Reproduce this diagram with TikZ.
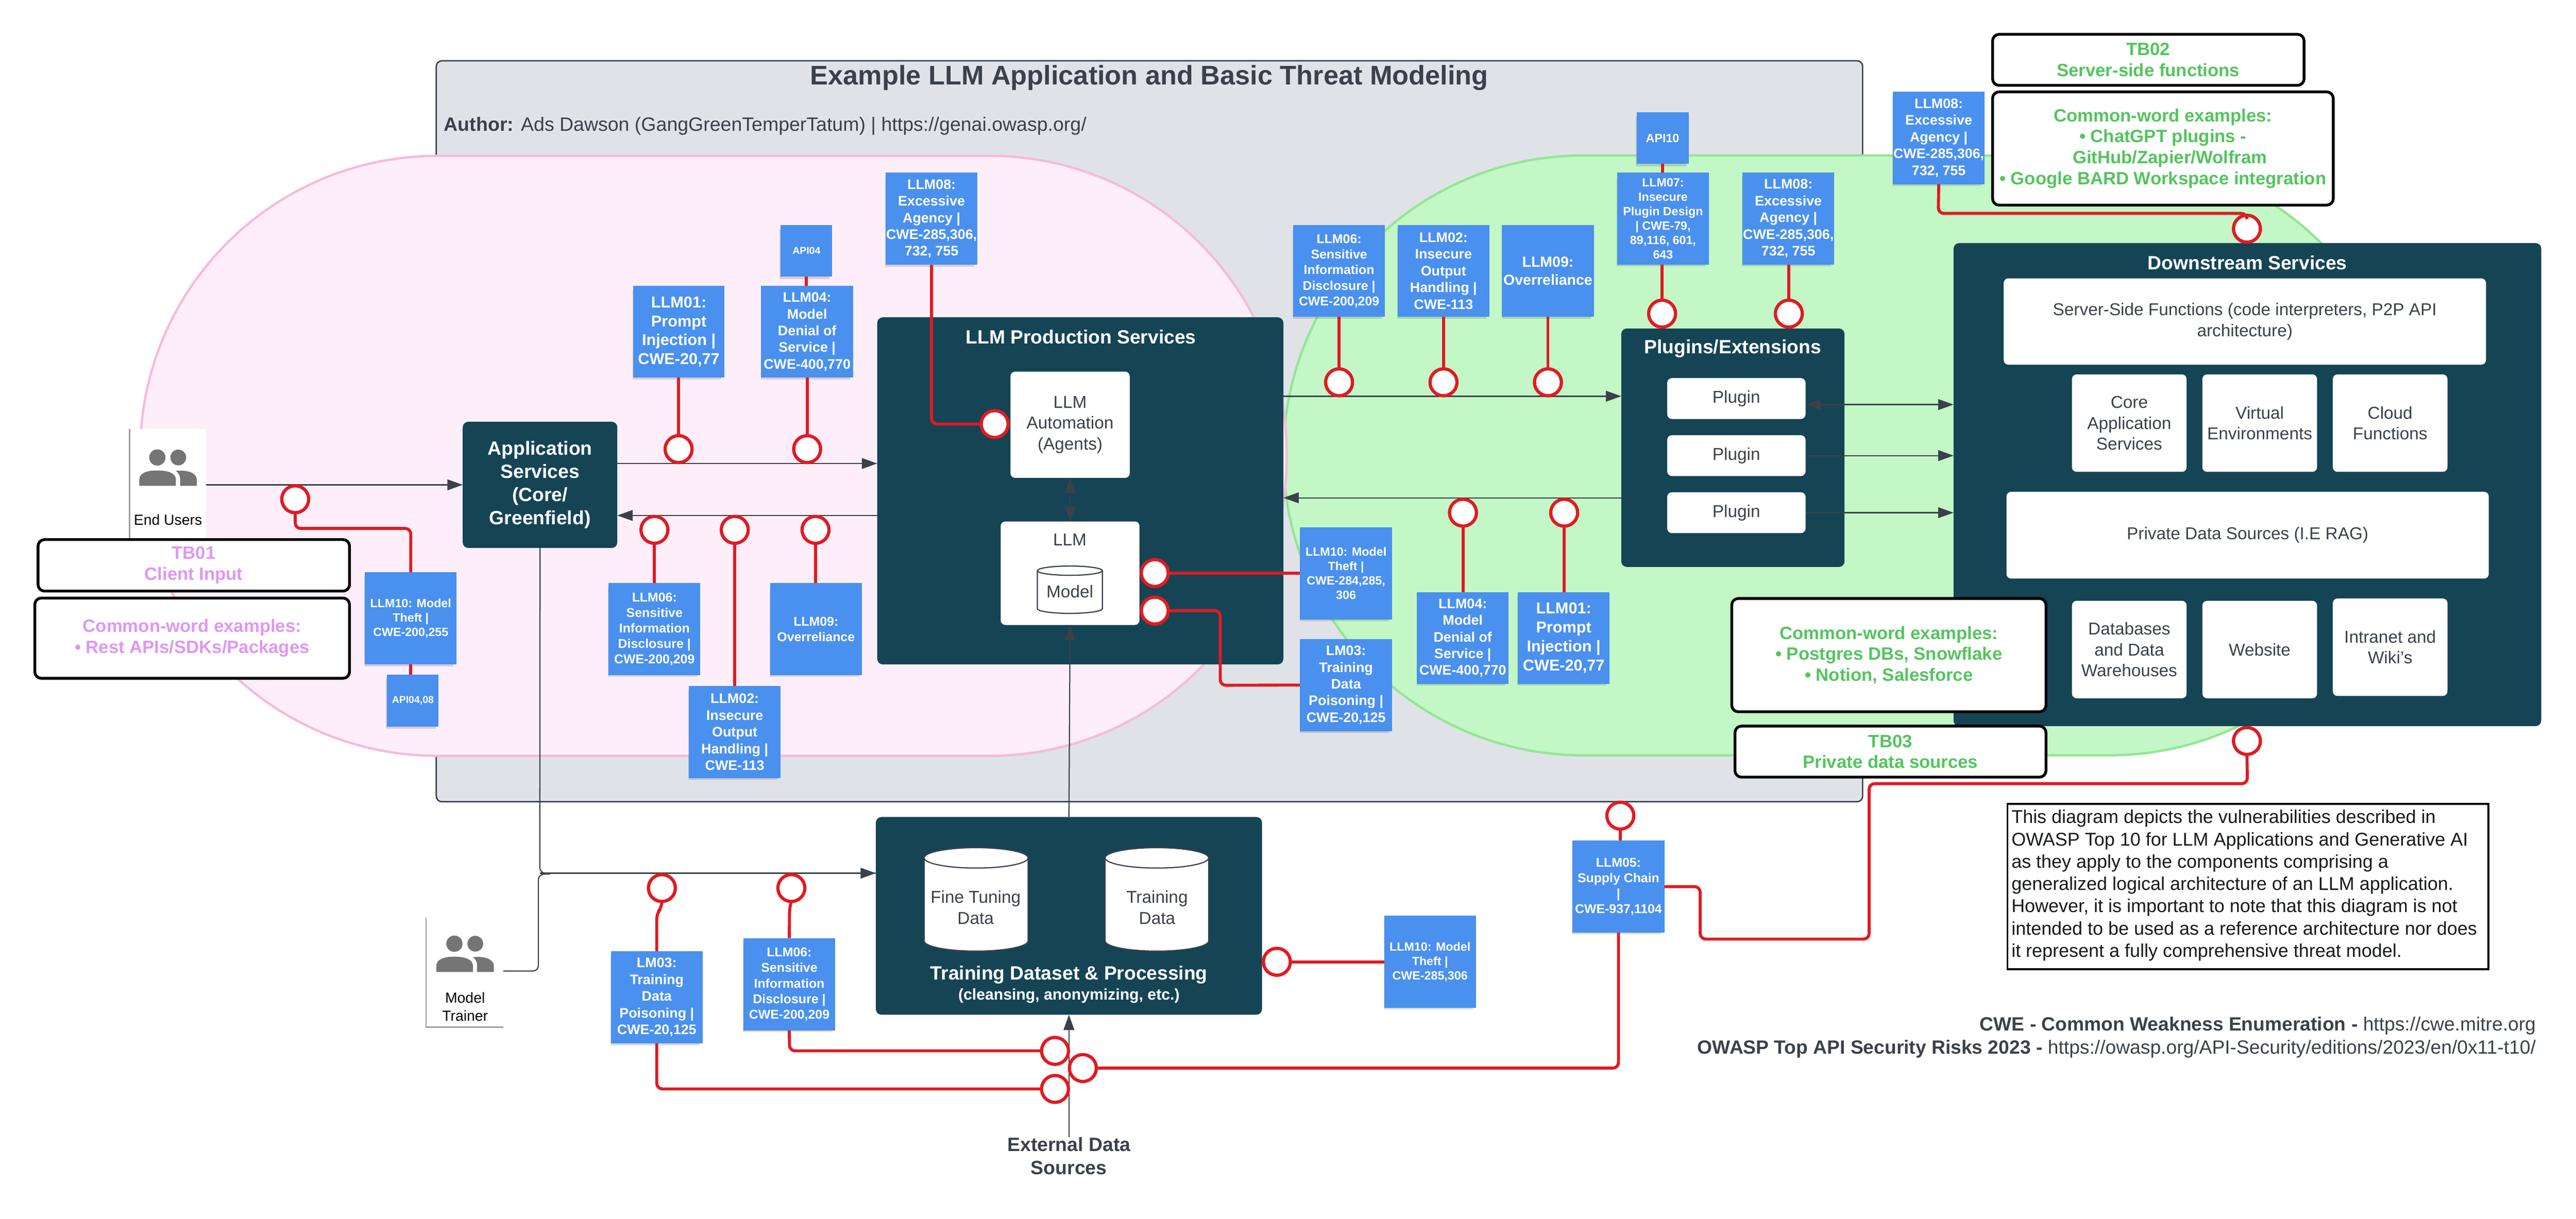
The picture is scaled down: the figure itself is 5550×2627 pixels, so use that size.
\documentclass[tikz,border=0pt]{standalone}
\usepackage{fontspec}
\setmainfont{Liberation Sans}
\usetikzlibrary{arrows.meta,shadows,calc}
\definecolor{teal}{HTML}{154455}
\definecolor{noteblue}{HTML}{4A90EE}
\definecolor{redl}{HTML}{E01B22}
\definecolor{ink}{HTML}{3A414A}
\definecolor{grayfill}{HTML}{DFE3E8}
\definecolor{pinkfill}{HTML}{FDEEFA}
\definecolor{pinkline}{HTML}{F6BBD9}
\definecolor{greenfill}{HTML}{C3F7C6}
\definecolor{greenline}{HTML}{95E595}
\definecolor{tbpink}{HTML}{DF97F2}
\definecolor{tbgreen}{HTML}{54C45E}
\definecolor{icon}{HTML}{757575}
\newcommand{\fs}[2]{\fontsize{\fpeval{#1*0.2845}pt}{\fpeval{#2*0.2845}pt}\selectfont}
\tikzset{
 note/.style={fill=noteblue,text=white,align=center,general shadow={fill=black,opacity=.14,shadow scale=.97,shadow xshift=-.04cm,shadow yshift=-.07cm}},
 nA/.style={font=\fs{21.6}{26}\bfseries},
 nB/.style={font=\fs{25.8}{31}\bfseries},
 nC/.style={font=\fs{27.6}{33.5}\bfseries},
 nD/.style={font=\fs{29.8}{36}\bfseries},
 nE/.style={font=\fs{34}{41}\bfseries},
 nF/.style={font=\fs{31.6}{38}\bfseries},
 darkbox/.style={fill=teal,rounded corners=.12cm,text=white,align=center},
 whitebox/.style={fill=white,rounded corners=.1cm,text=ink,align=center,font=\fs{37}{45}},
 tbbox/.style={draw=black,line width=.06cm,fill=white,rounded corners=.14cm,align=center,font=\fs{38.5}{45}\bfseries},
 threat/.style={circle,draw=redl,line width=.07cm,fill=white,minimum size=.58cm,inner sep=0pt,outer sep=0pt},
 redline/.style={draw=redl,line width=.065cm,rounded corners=.12cm},
 flow/.style={draw=ink,line width=.025cm,-{Triangle[length=.33cm,width=.23cm]}},
 flowboth/.style={draw=ink,line width=.025cm,{Triangle[length=.33cm,width=.23cm]}-{Triangle[length=.33cm,width=.23cm]}},
 plainline/.style={draw=ink,line width=.025cm,rounded corners=.12cm},
 cyl/.style={draw=ink,line width=.025cm,fill=white},
 txt/.style={text=ink,inner sep=0pt,align=center},
 titletext/.style={font=\fs{41.3}{50}\bfseries,text=white,inner sep=0pt,align=center},
 plain/.style={}
}
\newcommand{\Bx}[7]{%
 \pgfmathsetmacro\cx{(#3+#5)/2}\pgfmathsetmacro\cy{(#4+#6)/2}%
 \pgfmathsetmacro\ww{(#5-#3)*0.01}\pgfmathsetmacro\hh{(#6-#4)*0.01}%
 \node[#2,minimum width=\ww cm,minimum height=\hh cm,inner sep=0pt,outer sep=0pt] (#1) at (\cx,\cy) {#7};}
\newcommand{\Cyl}[5]{% x1 y1 x2 y2 ry
 \pgfmathsetmacro\rx{(#3-#1)/2}\pgfmathsetmacro\yt{#2+#5}\pgfmathsetmacro\yb{#4-#5}%
 \draw[cyl] (#1,\yt) -- (#1,\yb) arc[start angle=180,end angle=0,x radius=\rx,y radius=#5] -- (#3,\yt) arc[start angle=0,end angle=-180,x radius=\rx,y radius=#5] -- cycle;
 \draw[cyl,fill=none] (#1,\yt) arc[start angle=180,end angle=0,x radius=\rx,y radius=#5];}
\newcommand{\People}[2]{%
 \begin{scope}[shift={(#1,#2)}]
 \fill[icon] (339,986) circle[radius=17.5] (384,986) circle[radius=17];
 \fill[icon] (300,1047) -- (300,1034) .. controls (300,1018) and (320,1014) .. (339,1014) .. controls (358,1014) and (379,1018) .. (379,1034) -- (379,1047) -- cycle;
 \fill[icon] (388,1047) -- (388,1032) .. controls (388,1024) and (384,1019) .. (379,1015) .. controls (405,1012) and (424,1020) .. (424,1034) -- (424,1047) -- cycle;
 \end{scope}}
\begin{document}
\begin{tikzpicture}[x=0.01cm,y=-0.01cm]
\useasboundingbox (0,0) rectangle (5550,2627);
\fill[white] (0,0) rectangle (5550,2627);
% zones
\Bx{zone}{fill=grayfill,draw=ink,line width=.03cm,rounded corners=.12cm}{940}{131}{4013}{1728}{}
\Bx{greenzone}{fill=greenfill,draw=greenline,line width=.05cm,rounded corners=6.47cm}{2765}{335}{5191}{1628}{}
\Bx{pinkzone}{fill=pinkfill,draw=pinkline,line width=.05cm,rounded corners=6.4cm}{302}{336}{2772}{1629}{}
\node[txt,font=\fs{58}{60}\bfseries] (title) at (2476,168) {Example LLM Application and Basic Threat Modeling};
\node[txt,font=\fs{41.6}{50},anchor=west] (author) at (956,272) {\textbf{Author:} Ads Dawson (GangGreenTemperTatum) | https://genai.owasp.org/};
% users
\Bx{eu}{fill=white}{279}{925}{444}{1165}{}
\draw[draw=icon!70,line width=.03cm] (eu.north west) -- (eu.south west);
\People{0}{0}
\node[text=black,font=\fs{31.5}{38}] (eutext) at (362,1120) {End Users};
\Bx{mt}{fill=white}{918}{1978}{1084}{2214}{}
\draw[draw=icon!70,line width=.03cm] (mt.north west) -- (mt.south west) -- (mt.south east);
\People{640}{1048}
\node[text=black,font=\fs{31.5}{39},align=center] (mttext) at (1002,2170) {Model\\Trainer};
% dark boxes
\Bx{app}{darkbox,font=\fs{41.3}{50}\bfseries}{997}{909}{1330}{1181}{Application\\Services\\(Core/\\Greenfield)}
\Bx{prod}{darkbox}{1890}{684}{2765}{1432}{}
\node[titletext] (prodt) at (2329,726) {LLM Production Services};
\Bx{auto}{whitebox}{2177}{801}{2434}{1030}{LLM\\Automation\\(Agents)}
\Bx{llm}{whitebox}{2156}{1124}{2455}{1347}{}
\node[txt,font=\fs{37}{45}] (llmt) at (2305,1163) {LLM};
\Cyl{2235}{1220}{2375}{1322}{10}
\node[txt,font=\fs{37}{45}] (modelt) at (2305,1275) {Model};
\Bx{plug}{darkbox}{3493}{708}{3974}{1222}{}
\node[titletext] (plugt) at (3733,751) {Plugins/Extensions};
\Bx{p1}{whitebox}{3592}{815}{3890}{903}{Plugin}
\Bx{p2}{whitebox}{3592}{938}{3890}{1026}{Plugin}
\Bx{p3}{whitebox}{3592}{1061}{3890}{1149}{Plugin}
\Bx{down}{darkbox}{4209}{524}{5475}{1565}{}
\node[titletext] (downt) at (4842,566) {Downstream Services};
\Bx{srv}{whitebox}{4317}{600}{5356}{786}{Server-Side Functions (code interpreters, P2P API\\architecture)}
\Bx{core}{whitebox}{4464}{807}{4711}{1017}{Core\\Application\\Services}
\Bx{virt}{whitebox}{4745}{807}{4992}{1017}{Virtual\\Environments}
\Bx{cloud}{whitebox}{5026}{807}{5273}{1017}{Cloud\\Functions}
\Bx{priv}{whitebox}{4323}{1060}{5362}{1247}{Private Data Sources (I.E RAG)}
\Bx{db}{whitebox}{4464}{1295}{4711}{1505}{Databases\\and Data\\Warehouses}
\Bx{web}{whitebox}{4745}{1295}{4992}{1505}{Website}
\Bx{wiki}{whitebox}{5026}{1290}{5273}{1500}{Intranet and\\Wiki's}
\Bx{train}{darkbox}{1887}{1761}{2719}{2187}{}
\Cyl{1991}{1827}{2215}{2050}{22}
\Cyl{2381}{1827}{2604}{2050}{22}
\node[txt,font=\fs{37}{45}] (ft) at (2102,1956) {Fine Tuning\\Data};
\node[txt,font=\fs{37}{45}] (td) at (2493,1956) {Training\\Data};
\node[titletext] (traint) at (2303,2101) {Training Dataset \& Processing};
\node[text=white,inner sep=0pt,font=\fs{33.5}{40}\bfseries] (trains) at (2303,2147) {(cleansing, anonymizing, etc.)};
\node[txt,font=\fs{41.5}{50}\bfseries] (ext) at (2303,2492) {External Data\\Sources};
% flows
\draw[flow] (eu.east |- app) -- (app);
\draw[flow] (app.east |- 0,999) -- (prod.west |- 0,999);
\draw[flow] (prod.west |- 0,1111) -- (app.east |- 0,1111);
\draw[flow] (prod.east |- 0,854) -- (plug.west |- 0,854);
\draw[flow] (plug.west |- 0,1073) -- (prod.east |- 0,1073);
\draw[flowboth] (auto.south) -- (llm.north);
\draw[flow] (train.north) -- (llm.south);
\draw[flow] (ext.north) -- (train.south);
\draw[flowboth] (p1.east |- 0,872) -- (down.west |- 0,872);
\draw[flow] (p2.east |- 0,982) -- (down.west |- 0,982);
\draw[flow] (p3.east |- 0,1105) -- (down.west |- 0,1105);
\draw[plainline] (app.south) -- (1163,1882) -- (train.west |- 0,1882);
\draw[plainline] (mt.east |- 0,2093) -- (1160,2093) -- (1160,1884) -- (1185,1884);
\draw[flow] (1163,1882) -- (train.west |- 0,1882);
% notes
\Bx{l10a}{note,nB}{786}{1233}{984}{1432}{LLM10: Model\\Theft |\\CWE-200,255}
\Bx{api48}{note,nA}{834}{1454}{945}{1566}{API04,08}
\Bx{l01a}{note,nE}{1364}{616}{1561}{814}{LLM01:\\Prompt\\Injection |\\CWE-20,77}
\Bx{api4}{note,nA}{1682}{485}{1793}{596}{API04}
\Bx{l04a}{note,nD}{1640}{616}{1838}{814}{LLM04:\\Model\\Denial of\\Service |\\CWE-400,770}
\Bx{l08a}{note,nD}{1908}{372}{2106}{571}{LLM08:\\Excessive\\Agency |\\CWE-285,306,\\732, 755}
\Bx{l06a}{note,nC}{1311}{1257}{1509}{1455}{LLM06:\\Sensitive\\Information\\Disclosure |\\CWE-200,209}
\Bx{l09a}{note,nC}{1659}{1257}{1857}{1455}{LLM09:\\Overreliance}
\Bx{l02a}{note,nD}{1484}{1479}{1682}{1677}{LLM02:\\Insecure\\Output\\Handling |\\CWE-113}
\Bx{l06b}{note,nC}{2786}{485}{2984}{683}{LLM06:\\Sensitive\\Information\\Disclosure |\\CWE-200,209}
\Bx{l02b}{note,nD}{3011}{485}{3209}{683}{LLM02:\\Insecure\\Output\\Handling |\\CWE-113}
\Bx{l09b}{note,nF}{3236}{485}{3434}{683}{LLM09:\\Overreliance}
\Bx{api10}{note,font=\fs{25.8}{31}\bfseries}{3526}{242}{3638}{353}{API10}
\Bx{l07}{note,nB}{3484}{372}{3682}{570}{LLM07:\\Insecure\\Plugin Design\\| CWE-79,\\89,116, 601,\\643}
\Bx{l08b}{note,nD}{3754}{372}{3952}{570}{LLM08:\\Excessive\\Agency |\\CWE-285,306,\\732, 755}
\Bx{l08c}{note,nD}{4078}{198}{4276}{397}{LLM08:\\Excessive\\Agency |\\CWE-285,306,\\732, 755}
\Bx{l10b}{note,nB}{2801}{1137}{2999}{1335}{LLM10: Model\\Theft |\\CWE-284,285,\\306}
\Bx{l03b}{note,nD}{2801}{1377}{2999}{1576}{LM03:\\Training\\Data\\Poisoning |\\CWE-20,125}
\Bx{l04b}{note,nD}{3053}{1276}{3250}{1474}{LLM04:\\Model\\Denial of\\Service |\\CWE-400,770}
\Bx{l01b}{note,nE}{3270}{1276}{3468}{1474}{LLM01:\\Prompt\\Injection |\\CWE-20,77}
\Bx{l05}{note,nC}{3388}{1812}{3586}{2010}{LLM05:\\Supply Chain\\|\\CWE-937,1104}
\Bx{l03c}{note,nD}{1316}{2050}{1514}{2249}{LM03:\\Training\\Data\\Poisoning |\\CWE-20,125}
\Bx{l06c}{note,nC}{1602}{2022}{1799}{2221}{LLM06:\\Sensitive\\Information\\Disclosure |\\CWE-200,209}
\Bx{l10c}{note,nB}{2982}{1974}{3180}{2172}{LLM10: Model\\Theft |\\CWE-285,306}
% trust-boundary boxes
\Bx{tb1}{tbbox,text=tbpink}{82}{1163}{753}{1274}{TB01\\Client Input}
\Bx{tb1c}{tbbox,text=tbpink}{75}{1289}{753}{1462}{Common-word examples:\\• Rest APIs/SDKs/Packages}
\Bx{tb2}{tbbox,text=tbgreen}{4293}{74}{4964}{184}{TB02\\Server-side functions}
\Bx{tb2c}{tbbox,text=tbgreen}{4293}{198}{5027}{442}{Common-word examples:\\• ChatGPT plugins -\\\hspace*{.3cm}GitHub/Zapier/Wolfram\\• Google BARD Workspace integration}
\Bx{tb3c}{tbbox,text=tbgreen}{3731}{1290}{4408}{1534}{Common-word examples:\\• Postgres DBs, Snowflake\\• Notion, Salesforce}
\Bx{tb3}{tbbox,text=tbgreen}{3738}{1565}{4408}{1675}{TB03\\Private data sources}
% threat markers
\node[threat] (c1) at (636,1076) {};
\node[threat] (c2) at (1462,968) {};
\node[threat] (c3) at (1739,968) {};
\node[threat] (c4) at (2143,914) {};
\node[threat] (c5) at (1410,1142) {};
\node[threat] (c6) at (1583,1142) {};
\node[threat] (c7) at (1757,1142) {};
\node[threat] (c8) at (2488,1235) {};
\node[threat] (c9) at (2488,1316) {};
\node[threat] (c10) at (2885,824) {};
\node[threat] (c11) at (3110,824) {};
\node[threat] (c12) at (3335,824) {};
\node[threat] (c13) at (3581,676) {};
\node[threat] (c14) at (3854,676) {};
\node[threat] (c15) at (3152,1105) {};
\node[threat] (c16) at (3370,1105) {};
\node[threat] (c17) at (4841,493) {};
\node[threat] (c18) at (4841,1597) {};
\node[threat] (c19) at (3491,1758) {};
\node[threat] (c20) at (2333,2302) {};
\node[threat] (c21) at (2273,2265) {};
\node[threat] (c22) at (2273,2347) {};
\node[threat] (c23) at (1426,1914) {};
\node[threat] (c24) at (1705,1914) {};
\node[threat] (c25) at (2751,2073) {};
% red connectors
\draw[redline] (c1.south) -- (636,1139) -- (885,1139) -- (l10a.north);
\draw[redline] (l10a.south) -- (l10a.south |- api48.north);
\draw[redline] (c2.north) -- (c2.north |- l01a.south);
\draw[redline] (c3.north) -- (c3.north |- l04a.south);
\draw[redline] (api4.south) -- (api4.south |- l04a.north);
\draw[redline] (l08a.south) -- (2007,914) -- (c4.west);
\draw[redline] (c5.south) -- (c5.south |- l06a.north);
\draw[redline] (c6.south) -- (c6.south |- l02a.north);
\draw[redline] (c7.south) -- (c7.south |- l09a.north);
\draw[redline] (c8.east) -- (l10b.west |- c8.east);
\draw[redline] (c9.east) -- (2629,1316) -- (2629,1477) -- (l03b.west);
\draw[redline] (c10.north) -- (c10.north |- l06b.south);
\draw[redline] (c11.north) -- (c11.north |- l02b.south);
\draw[redline] (c12.north) -- (c12.north |- l09b.south);
\draw[redline] (c13.north) -- (c13.north |- l07.south);
\draw[redline] (c14.north) -- (c14.north |- l08b.south);
\draw[redline] (api10.south) -- (api10.south |- l07.north);
\draw[redline] (c15.south) -- (c15.south |- l04b.north);
\draw[redline] (c16.south) -- (c16.south |- l01b.north);
\draw[redline] (l08c.south) -- (4176,460) -- (4841,460) -- (c17.north);
\draw[redline] (c18.south) -- (4842,1689) -- (4027,1689) -- (4027,2024) -- (3663,2024) -- (3663,1911) -- (l05.east |- 0,1911);
\draw[redline] (c19.south) -- (c19.south |- l05.north);
\draw[redline] (l05.south) -- (3487,2302) -- (c20.east);
\draw[redline] (l06c.south) -- (1701,2265) -- (c21.west);
\draw[redline] (l03c.south) -- (1415,2347) -- (c22.west);
\draw[redline] (c23.south) -- (1426,1956) -- (1415,1968) -- (l03c.north);
\draw[redline] (c24.south) -- (1701,1956) -- (l06c.north);
\draw[redline] (c25.east) -- (l10c.west |- c25.east);
% explanatory notes
\Bx{para}{draw=black,line width=.04cm,fill=white}{4325}{1733}{5361}{2089}{}
\node[text=ink!40!black,inner sep=0pt,anchor=north west,align=left,font=\fs{39.9}{48}] (parat) at (4333,1745) {This diagram depicts the vulnerabilities described in\\OWASP Top 10 for LLM Applications and Generative AI\\as they apply to the components comprising a\\generalized logical architecture of an LLM application.\\However, it is important to note that this diagram is not\\intended to be used as a reference architecture nor does\\it represent a fully comprehensive threat model.};
\node[txt,anchor=east,align=right,font=\fs{41.3}{49}] (refs) at (5464,2236) {\textbf{CWE - Common Weakness Enumeration -} https://cwe.mitre.org\\\textbf{OWASP Top API Security Risks 2023 -} https://owasp.org/API-Security/editions/2023/en/0x11-t10/};
\end{tikzpicture}
\end{document}
